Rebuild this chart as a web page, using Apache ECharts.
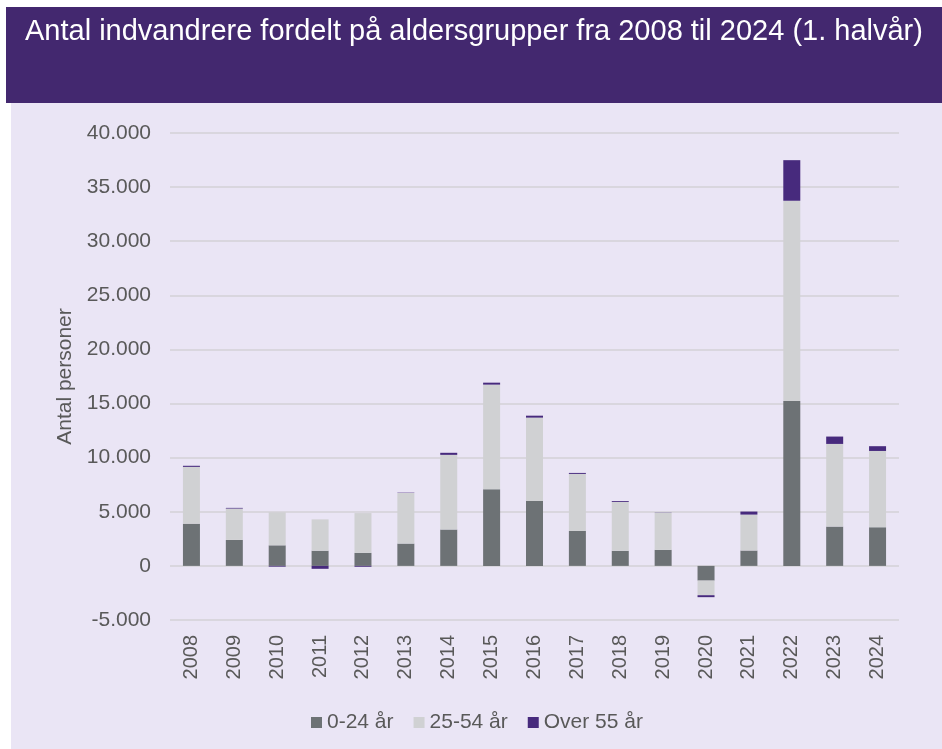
<!DOCTYPE html>
<html>
<head>
<meta charset="utf-8">
<script src="https://cdn.jsdelivr.net/npm/echarts@6/dist/echarts.min.js"></script>
<style>
  html, body { margin: 0; padding: 0; background: #fff; }
  #main { width: 942px; height: 749px; }
</style>
</head>
<body>
<div id="main"></div>
<script>
// år
var years = ['2008', '2009', '2010', '2011', '2012', '2013', '2014', '2015', '2016',
  '2017', '2018', '2019', '2020', '2021', '2022', '2023', '2024'];

// antal personer pr. aldersgruppe
var age0to24 = [3900, 2400, 1900, 1400, 1200, 2060, 3360, 7080, 6000,
  3230, 1390, 1480, -1360, 1420, 15240, 3630, 3570];
var age25to54 = [5250, 2900, 3060, 2900, 3680, 4680, 6900, 9670, 7700,
  5270, 4520, 3450, -1350, 3320, 18500, 7640, 7050];
var ageOver55 = [100, 60, -70, -270, -80, 30, 190, 180, 180,
  90, 80, 20, -180, 280, 3750, 680, 440];

var seriesNames = ['0-24 år', '25-54 år', 'Over 55 år'];
var textColor = '#595959';

// tusindtal med punktum
function fmt(v) {
  var s = String(Math.abs(v)).replace(/\B(?=(\d{3})+(?!\d))/g, '.');
  return (v < 0 ? '-' : '') + s;
}

var chart = echarts.init(document.getElementById('main'));

var option = {
  backgroundColor: '#ffffff',
  animation: false,
  textStyle: { fontFamily: 'Liberation Sans, Arial, sans-serif' },
  graphic: [
    { type: 'rect', z: -10, shape: { x: 11, y: 102, width: 931, height: 647 }, style: { fill: '#EAE5F5' } },
    { type: 'rect', z: -10, shape: { x: 6, y: 7, width: 936, height: 96 }, style: { fill: '#43286F' } },
    {
      type: 'text', left: 25, top: 17,
      style: {
        text: 'Antal indvandrere fordelt på aldersgrupper fra 2008 til 2024 (1. halvår)',
        fill: '#ffffff', fontSize: 29,
        fontFamily: 'Liberation Sans Narrow, Arial Narrow, sans-serif'
      }
    }
  ],
  legend: {
    data: seriesNames,
    left: 306, top: 707,
    itemWidth: 11, itemHeight: 11,
    itemGap: 20,
    icon: 'rect',
    textStyle: { color: textColor, fontSize: 21 }
  },
  grid: { left: 170, right: 43, top: 133, bottom: 129 },
  xAxis: {
    type: 'category',
    data: years,
    axisLine: { show: false, onZero: false },
    axisTick: { show: false },
    axisLabel: { rotate: 90, color: textColor, fontSize: 20, margin: 15 }
  },
  yAxis: {
    type: 'value',
    min: -5000, max: 40000, interval: 5000,
    name: 'Antal personer',
    nameLocation: 'middle',
    nameGap: 94,
    nameTextStyle: { color: textColor, fontSize: 21 },
    axisLine: { show: false },
    axisTick: { show: false },
    axisLabel: { color: textColor, fontSize: 21, margin: 19, formatter: fmt },
    splitLine: { lineStyle: { color: '#D9D6DE', width: 2 } }
  },
  series: [
    { name: seriesNames[0], type: 'bar', stack: 'alder', barWidth: 17, data: age0to24,
      itemStyle: { color: '#6D7275' } },
    { name: seriesNames[1], type: 'bar', stack: 'alder', barWidth: 17, data: age25to54,
      itemStyle: { color: '#D0D1D3' } },
    { name: seriesNames[2], type: 'bar', stack: 'alder', barWidth: 17, data: ageOver55,
      itemStyle: { color: '#472A7D' } }
  ]
};

chart.setOption(option);
</script>
</body>
</html>
